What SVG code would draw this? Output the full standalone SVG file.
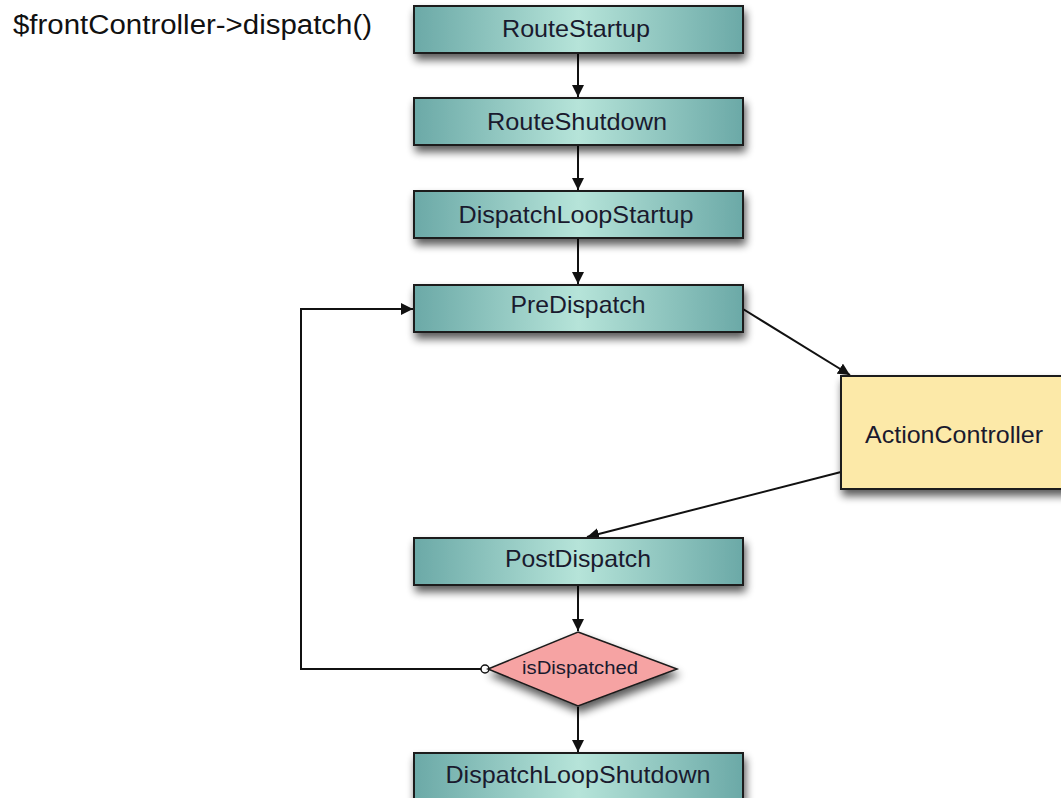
<svg xmlns="http://www.w3.org/2000/svg" width="1061" height="798" viewBox="0 0 1061 798">
<style>
.box{fill:url(#teal);stroke:#1a1a1a;stroke-width:2;filter:url(#sh)}
.lbl{font-family:"Liberation Sans",Arial,sans-serif;font-size:24px;fill:#1a1a2e;text-anchor:middle}
.ln{fill:none;stroke:#111;stroke-width:2}
</style>
<defs>
<linearGradient id="teal" x1="0" y1="0" x2="1" y2="0">
<stop offset="0" stop-color="#6ba9a7"/>
<stop offset="0.5" stop-color="#b6e4d9"/>
<stop offset="1" stop-color="#6ba9a7"/>
</linearGradient>
<filter id="sh" x="-10%" y="-20%" width="125%" height="160%">
<feGaussianBlur in="SourceAlpha" stdDeviation="4"/>
<feOffset dx="2" dy="6" result="b"/>
<feComponentTransfer><feFuncA type="linear" slope="0.65"/></feComponentTransfer>
<feMerge><feMergeNode/><feMergeNode in="SourceGraphic"/></feMerge>
</filter>
<marker id="arr" viewBox="0 0 10 10" refX="10" refY="5" markerWidth="12" markerHeight="12" markerUnits="userSpaceOnUse" orient="auto">
<path d="M0,0 L10,5 L0,10 z" fill="#111"/>
</marker>
</defs>
<rect width="1061" height="798" fill="#fff"/>
<text x="13" y="34" font-family="Liberation Sans,Arial,sans-serif" font-size="27" fill="#111" textLength="359" lengthAdjust="spacingAndGlyphs">$frontController-&gt;dispatch()</text>
<g id="connectors">
<line class="ln" x1="578" y1="53" x2="578" y2="97" marker-end="url(#arr)"/>
<line class="ln" x1="578" y1="146" x2="578" y2="190" marker-end="url(#arr)"/>
<line class="ln" x1="578" y1="239" x2="578" y2="284" marker-end="url(#arr)"/>
<line class="ln" x1="743" y1="309" x2="850" y2="375" marker-end="url(#arr)"/>
<line class="ln" x1="841" y1="472" x2="587" y2="537" marker-end="url(#arr)"/>
<line class="ln" x1="578" y1="586" x2="578" y2="631" marker-end="url(#arr)"/>
<polyline class="ln" points="481,669 301,669 301,309 413,309" marker-end="url(#arr)"/>
<circle cx="485" cy="669" r="4" fill="#fff" stroke="#111" stroke-width="1.5"/>
<line class="ln" x1="578" y1="707" x2="578" y2="752" marker-end="url(#arr)"/>
</g>
<g id="RouteStartup"><rect class="box" x="414" y="6" width="329" height="47"/><text class="lbl" x="576" y="37" textLength="148" lengthAdjust="spacingAndGlyphs">RouteStartup</text></g>
<g id="RouteShutdown"><rect class="box" x="414" y="98" width="329" height="47"/><text class="lbl" x="577" y="130" textLength="180" lengthAdjust="spacingAndGlyphs">RouteShutdown</text></g>
<g id="DispatchLoopStartup"><rect class="box" x="414" y="191" width="329" height="47"/><text class="lbl" x="576" y="223" textLength="235" lengthAdjust="spacingAndGlyphs">DispatchLoopStartup</text></g>
<g id="PreDispatch"><rect class="box" x="414" y="285" width="329" height="47"/><text class="lbl" x="578" y="313" textLength="135" lengthAdjust="spacingAndGlyphs">PreDispatch</text></g>
<g id="ActionController"><rect x="841" y="376" width="230" height="113" fill="#fce9a8" stroke="#1a1a1a" stroke-width="2" filter="url(#sh)"/><text class="lbl" x="954" y="443" textLength="178" lengthAdjust="spacingAndGlyphs">ActionController</text></g>
<g id="PostDispatch"><rect class="box" x="414" y="538" width="329" height="47"/><text class="lbl" x="578" y="567" textLength="146" lengthAdjust="spacingAndGlyphs">PostDispatch</text></g>
<g id="isDispatched"><polygon points="578,632 677,669 578,706 488,669" fill="#f6a3a3" stroke="#1a1a1a" stroke-width="1.5" filter="url(#sh)"/><text x="580" y="674" font-family="Liberation Sans,Arial,sans-serif" font-size="18" fill="#1a1a2e" text-anchor="middle" textLength="116" lengthAdjust="spacingAndGlyphs">isDispatched</text></g>
<g id="DispatchLoopShutdown"><rect class="box" x="414" y="753" width="329" height="47"/><text class="lbl" x="578" y="783" textLength="265" lengthAdjust="spacingAndGlyphs">DispatchLoopShutdown</text></g>
</svg>
